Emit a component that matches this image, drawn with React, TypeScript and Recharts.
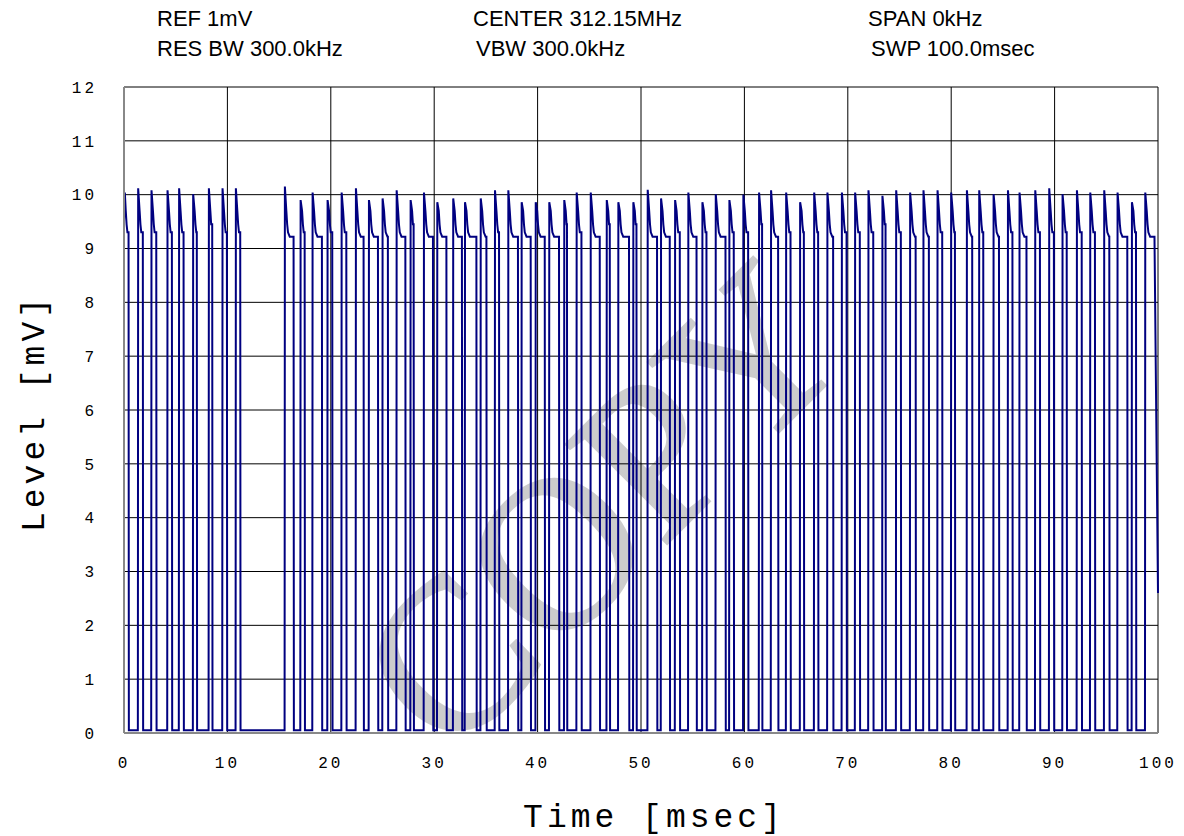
import React from 'react';
import { LineChart, Line, XAxis, YAxis, CartesianGrid } from 'recharts';

// pulse edges, in msec
const pulseRise = [
  0.0, 1.34, 2.63, 4.18, 5.3, 6.66, 8.18, 9.5, 10.79,
  15.53, 17.05, 18.21, 19.66, 21.02, 22.4, 23.66, 24.98, 26.34, 27.69, 28.98,
  30.27, 31.81, 32.95, 34.47, 35.85, 37.14, 38.43, 39.79, 41.1, 42.55, 43.75,
  45.11, 46.66, 47.78, 49.23, 50.62, 51.91, 53.27, 54.55, 55.91, 57.2, 58.52,
  59.87, 61.39, 62.55, 64.01, 65.36, 66.72, 68.0, 69.4, 70.68, 71.97, 73.32,
  74.65, 76.0, 77.29, 78.65, 79.97, 81.49, 82.68, 84.07, 85.46, 86.58, 88.1,
  89.45, 90.74, 92.13, 93.42, 94.77, 96.06, 97.45, 98.74,
];
const pulseFall = [
  0.44, 1.82, 3.12, 4.63, 5.76, 7.04, 8.53, 9.95, 11.24,
  16.4, 17.47, 19.14, 20.14, 21.5, 23.17, 24.56, 25.52, 27.21, 28.01, 29.88,
  31.18, 32.68, 34.08, 35.05, 36.27, 38.1, 39.33, 40.69, 42.07, 42.84, 44.24,
  46.01, 46.98, 48.84, 49.56, 51.55, 52.78, 53.75, 55.37, 56.33, 58.17, 58.97,
  60.36, 61.71, 63.26, 64.46, 65.75, 67.13, 68.58, 69.88, 71.16, 72.46, 73.65,
  75.13, 76.56, 77.84, 79.13, 80.36, 82.03, 83.1, 84.62, 85.92, 87.28, 88.58,
  89.93, 91.17, 92.62, 93.9, 95.29, 97.03, 97.87, 99.66,
];
const pulsePeak = [
  10.04, 10.12, 10.08, 10.08, 10.12, 10.01, 10.12, 10.12, 10.12,
  10.15, 9.9, 10.04, 9.9, 10.04, 10.12, 9.9, 9.93, 10.08, 9.9, 10.04,
  9.86, 9.93, 9.86, 9.93, 10.08, 10.08, 9.86, 9.86, 9.86, 9.9, 10.04,
  10.04, 9.9, 9.86, 9.86, 10.09, 9.93, 9.9, 10.04, 9.86, 10.01, 9.9,
  10.0, 10.04, 10.08, 10.04, 9.86, 10.04, 10.04, 10.04, 10.04, 10.08, 9.98,
  10.08, 10.04, 10.08, 10.08, 10.04, 10.08, 10.08, 10.01, 10.08, 10.04, 10.08,
  10.12, 10.01, 10.08, 10.04, 10.08, 10.04, 9.86, 10.04,
];

// decay after each peak: time after the rise (msec) and level (mV)
const decayAfter = [0.17, 0.25, 0.33, 0.5];
const decayLevel = [9.7, 9.45, 9.3, 9.22];
const lowLevel = 0.05;
const startLevel = 9.5;
const endLevel = 2.6;

const xTicks = [0, 10, 20, 30, 40, 50, 60, 70, 80, 90, 100];
const yTicks = [0, 1, 2, 3, 4, 5, 6, 7, 8, 9, 10, 11, 12];

const headerLabels = [
  'REF 1mV', 'CENTER 312.15MHz', 'SPAN 0kHz',
  'RES BW 300.0kHz', 'VBW 300.0kHz', 'SWP 100.0msec',
];

const buildTrace = () => {
  const pts: { t: number; mv: number }[] = [{ t: 0, mv: startLevel }];
  pulseRise.forEach((r, i) => {
    const f = pulseFall[i];
    if (i > 0) pts.push({ t: r, mv: lowLevel });
    pts.push({ t: i === 0 ? 0.08 : r + 0.03, mv: pulsePeak[i] });
    let last = pulsePeak[i];
    decayAfter.forEach((d, k) => {
      if (r + d < f - 0.02) {
        pts.push({ t: r + d, mv: decayLevel[k] });
        last = decayLevel[k];
      }
    });
    pts.push({ t: f, mv: last });
    if (i === pulseRise.length - 1) pts.push({ t: 100, mv: endLevel });
    else pts.push({ t: f + 0.03, mv: lowLevel });
  });
  return pts;
};

const trace = buildTrace();

const mono = '"Liberation Mono", "DejaVu Sans Mono", monospace';
const sans = '"Liberation Sans", Arial, sans-serif';

const App: React.FC = () => {
  const col = [157, 473, 868];
  const row = [26, 56];
  return (
    <div style={{ position: 'absolute', left: 0, top: 0, width: 1184, height: 836, background: '#fff' }}>
      <svg width={1184} height={836} style={{ position: 'absolute', left: 0, top: 0 }}>
        <text
          x={602}
          y={506}
          transform="rotate(-45 602 506)"
          textAnchor="middle"
          dominantBaseline="central"
          fontFamily='"Liberation Serif", "Times New Roman", serif'
          fontSize={216}
          fill="#cccccc"
          stroke="#cccccc"
          strokeWidth={3}
        >
          COPY
        </text>
        {headerLabels.map((h, i) => (
          <text key={h} x={col[i % 3] + (i >= 3 && i % 3 > 0 ? 3 : 0)} y={row[Math.floor(i / 3)]} fontFamily={sans} fontSize={22} fill="#000">
            {h}
          </text>
        ))}
        <text x={35} y={413} transform="rotate(-90 35 413)" textAnchor="middle" dominantBaseline="central"
          fontFamily={mono} fontSize={33} letterSpacing={4} fill="#000">
          Level [mV]
        </text>
        <text x={654} y={818} textAnchor="middle" dominantBaseline="central"
          fontFamily={mono} fontSize={33} letterSpacing={4} fill="#000">
          Time [msec]
        </text>
      </svg>
      <div style={{ position: 'absolute', left: 0, top: 0 }}>
        <LineChart width={1184} height={836} data={trace} margin={{ top: 87, right: 26, bottom: 43, left: 64 }}>
          <CartesianGrid stroke="#000" strokeWidth={1} horizontal vertical />
          <XAxis
            dataKey="t"
            type="number"
            domain={[0, 100]}
            ticks={xTicks}
            height={60}
            tickSize={0}
            tickMargin={24}
            axisLine={{ stroke: '#888', strokeWidth: 2 }}
            tick={{ fontFamily: mono, fontSize: 16, fill: '#000', letterSpacing: 3 }}
          />
          <YAxis
            type="number"
            domain={[0, 12]}
            ticks={yTicks}
            width={60}
            tickSize={0}
            tickMargin={27}
            axisLine={{ stroke: '#888', strokeWidth: 2 }}
            tick={{ fontFamily: mono, fontSize: 16, fill: '#000', letterSpacing: 3 }}
          />
          <Line
            type="linear"
            dataKey="mv"
            stroke="#000080"
            strokeWidth={2}
            dot={false}
            isAnimationActive={false}
          />
        </LineChart>
      </div>
    </div>
  );
};

export default App;
